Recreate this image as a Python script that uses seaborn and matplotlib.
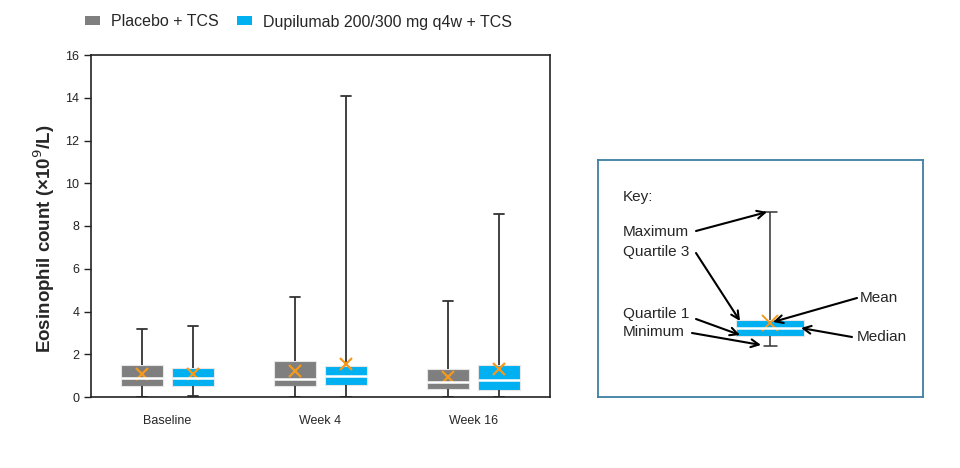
import seaborn as sns
import pandas as pd
import matplotlib.pyplot as plt
from matplotlib.patches import Patch

# ---------------------------------------------------------------------------- #
#                                    Datos                                     #
# ---------------------------------------------------------------------------- #
visitas = ["Baseline", "Week 4", "Week 16"]
grupos = ["Placebo + TCS", "Dupilumab 200/300 mg q4w + TCS"]
colores = ["#7f7f7f", "#00b0f0"]

# min, Q1, mediana, Q3, max por visita
placebo_min = [0.0, 0.0, 0.0]
placebo_q1 = [0.50, 0.52, 0.36]
placebo_med = [0.91, 0.83, 0.69]
placebo_q3 = [1.48, 1.69, 1.33]
placebo_max = [3.18, 4.67, 4.51]
placebo_media = [1.06, 1.20, 0.92]

dupi_min = [0.05, 0.0, 0.0]
dupi_q1 = [0.50, 0.58, 0.35]
dupi_med = [0.89, 0.98, 0.78]
dupi_q3 = [1.34, 1.45, 1.48]
dupi_max = [3.33, 14.08, 8.57]
dupi_media = [1.06, 1.55, 1.33]

# esquema de la leyenda "Key" (unidades arbitrarias)
key_stats = [51, 61, 69, 77, 185]
key_media = 74

# ---------------------------------------------------------------------------- #
#                              Armado de DataFrame                             #
# ---------------------------------------------------------------------------- #
filas = []
medias = []
for grupo, mins, q1s, meds, q3s, maxs, mus in [
    (grupos[0], placebo_min, placebo_q1, placebo_med, placebo_q3, placebo_max, placebo_media),
    (grupos[1], dupi_min, dupi_q1, dupi_med, dupi_q3, dupi_max, dupi_media),
]:
    for i, v in enumerate(visitas):
        for val in (mins[i], q1s[i], meds[i], q3s[i], maxs[i]):
            filas.append({"visita": v, "grupo": grupo, "valor": val})
        medias.append({"visita": v, "grupo": grupo, "media": mus[i]})
df = pd.DataFrame(filas)
df_medias = pd.DataFrame(medias)

# ---------------------------------------------------------------------------- #
#                                    Grafico                                   #
# ---------------------------------------------------------------------------- #
sns.set_style("ticks")
plt.rcParams["font.family"] = ["Liberation Sans", "DejaVu Sans"]

fig = plt.figure(figsize=(9.6, 4.68), dpi=100)
ax = fig.add_axes([91 / 960, 71 / 468, 459 / 960, 342 / 468])

cajas = dict(
    whis=(0, 100), showfliers=False, width=0.67, gap=0.19,
    boxprops=dict(edgecolor="#e6e6e6", linewidth=0.8),
    medianprops=dict(color="white", linewidth=1.8),
    whiskerprops=dict(color="#333333", linewidth=1.3),
    capprops=dict(color="#333333", linewidth=1.3),
)
sns.boxplot(data=df, x="visita", y="valor", hue="grupo", order=visitas, hue_order=grupos,
            palette=colores, saturation=1, legend=False, capwidths=0.07, ax=ax, **cajas)

# medias con cruz naranja
sns.pointplot(data=df_medias, x="visita", y="media", hue="grupo", order=visitas, hue_order=grupos,
              palette=["#f39a1e", "#f39a1e"], dodge=0.335, linestyle="none", errorbar=None,
              marker="x", markersize=8, markeredgewidth=1.6, legend=False, ax=ax)

ax.set_xlim(-0.5, 2.5)
ax.set_ylim(0, 16)
ax.set_yticks(range(0, 17, 2))
for s in ax.spines.values():
    s.set_visible(True)
    s.set_color("#222222")
    s.set_linewidth(1.2)
ax.tick_params(axis="y", direction="out", length=5, width=1, labelsize=9, colors="#222222")
ax.tick_params(axis="x", length=0, pad=13, labelsize=9)
ax.set_xlabel("")
ax.set_ylabel("Eosinophil count (×10$^9$/L)", fontsize=13.5, fontweight="bold")
ax.yaxis.set_label_coords(-0.074, 0.462)

# leyenda superior
handles = [Patch(facecolor=c, edgecolor="none") for c in colores]
fig.legend(handles, grupos, loc="center left", bbox_to_anchor=(85 / 960, 1 - 22 / 468), ncol=2,
           frameon=False, fontsize=11.5, handlelength=0.95, handleheight=0.5, handletextpad=0.7,
           columnspacing=1.1, borderpad=0, borderaxespad=0)

# ---------------------------------------------------------------------------- #
#                                     Key                                      #
# ---------------------------------------------------------------------------- #
kx = fig.add_axes([598 / 960, 71 / 468, 325 / 960, 237 / 468])
sns.boxplot(x=["key"] * len(key_stats), y=key_stats, whis=(0, 100), showfliers=False, width=68,
            color=colores[1], saturation=1, capwidths=13, ax=kx,
            boxprops=dict(edgecolor="#e6e6e6", linewidth=0.8),
            medianprops=dict(color="white", linewidth=1.8),
            whiskerprops=dict(color="#333333", linewidth=1.1),
            capprops=dict(color="#333333", linewidth=1.1))
sns.pointplot(x=["key"], y=[key_media], color="#f39a1e", linestyle="none", errorbar=None,
              marker="x", markersize=12, markeredgewidth=1.4, ax=kx)
kx.set_xlim(-172, 153)
kx.set_ylim(0, 237)
kx.set_xticks([])
kx.set_yticks([])
kx.set_xlabel("")
kx.set_ylabel("")
for s in kx.spines.values():
    s.set_visible(True)
    s.set_color("#3f7fa3")
    s.set_linewidth(1.3)

kx.text(-147, 200, "Key:", fontsize=11, va="center")
etiquetas = [
    ("Maximum", (-147, 165), (-74, 166), (-3, 185)),
    ("Quartile 3", (-147, 145), (-74, 144), (-30, 76)),
    ("Quartile 1", (-147, 83), (-74, 78), (-30, 62)),
    ("Minimum", (-147, 65), (-78, 64), (-9, 52)),
    ("Mean", (90, 99), (87, 99), (3, 75)),
    ("Median", (87, 60), (82, 60), (31, 69)),
]
for txt, pos_txt, cola, punta in etiquetas:
    kx.text(pos_txt[0], pos_txt[1], txt, fontsize=11, va="center")
    kx.annotate("", xy=punta, xytext=cola,
                arrowprops=dict(arrowstyle="->", color="black", lw=1.5, shrinkA=0, shrinkB=0,
                                mutation_scale=14))

fig.savefig("out.png", dpi=100)
